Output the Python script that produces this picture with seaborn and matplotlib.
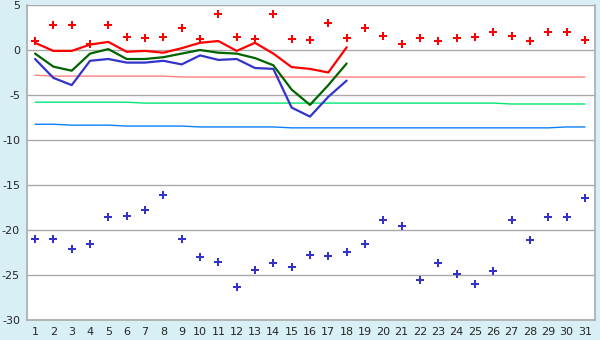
import numpy as np
import pandas as pd
import seaborn as sns
import matplotlib.pyplot as plt

# ==== Data ====
days = list(range(1, 32))

record_max = [1.0, 2.8, 2.8, 0.7, 2.8, 1.4, 1.3, 1.4, 2.5, 1.2, 4.0, 1.5, 1.2, 4.0, 1.2, 1.1,
              3.0, 1.3, 2.5, 1.6, 0.7, 1.3, 1.0, 1.3, 1.4, 2.0, 1.6, 1.0, 2.0, 2.0, 1.1]
record_min = [-21.0, -21.0, -22.1, -21.5, -18.6, -18.4, -17.8, -16.1, -21.0, -23.0, -23.6, -26.3,
              -24.4, -23.7, -24.1, -22.8, -22.9, -22.4, -21.6, -18.9, -19.5, -25.6, -23.7, -24.9,
              -26.0, -24.5, -18.9, -21.1, -18.6, -18.6, -16.4]

obs_days = list(range(1, 19))
t_max = [0.8, -0.1, -0.1, 0.6, 0.9, -0.2, -0.1, -0.3, 0.2, 0.8, 1.0, -0.1, 0.8, -0.4, -1.9, -2.1, -2.5, 0.3]
t_mean = [-0.4, -1.85, -2.3, -0.4, 0.1, -1.0, -1.0, -0.8, -0.4, 0.0, -0.3, -0.4, -0.9, -1.7, -4.4, -6.1, -3.9, -1.5]
t_min = [-1.0, -3.1, -3.9, -1.2, -1.0, -1.4, -1.4, -1.2, -1.6, -0.6, -1.1, -1.0, -2.0, -2.1, -6.4, -7.4, -5.2, -3.4]

norm_max = [-2.8] + [-2.9] * 7 + [-3.0] * 23
norm_mean = [-5.8] * 6 + [-5.9] * 20 + [-6.0] * 5
norm_min = [-8.25] * 2 + [-8.35] * 3 + [-8.45] * 4 + [-8.55] * 5 + [-8.65] * 15 + [-8.55] * 2

y_ticks = [5, 0, -5, -10, -15, -20, -25, -30]

# ==== Plot ====
sns.set_style("white")
plt.rcParams['font.family'] = ['DejaVu Sans']
plt.rcParams['axes.unicode_minus'] = False

fig = plt.figure(figsize=(6, 3.4), dpi=100, facecolor='#D9EFF6')
ax = fig.add_axes([27 / 600, 1 - 320 / 340, 568 / 600, 315 / 340])
ax.set_facecolor('white')

for y in y_ticks:
    ax.axhline(y, color='#AAAAAA', lw=1, zorder=0)

sns.lineplot(x=days, y=norm_max, color='#FF7F7F', lw=1.0, ax=ax)
sns.lineplot(x=days, y=norm_mean, color='#00E673', lw=1.0, ax=ax)
sns.lineplot(x=days, y=norm_min, color='#0A80FF', lw=1.0, ax=ax)

sns.lineplot(x=obs_days, y=t_max, color='#FF0000', lw=1.6, ax=ax)
sns.lineplot(x=obs_days, y=t_mean, color='#006400', lw=1.6, ax=ax)
sns.lineplot(x=obs_days, y=t_min, color='#3333CC', lw=1.6, ax=ax)

sns.scatterplot(x=days, y=record_max, color='#FF0000', marker='P', s=28, linewidth=0, ax=ax, zorder=5)
sns.scatterplot(x=days, y=record_min, color='#3333CC', marker='P', s=28, linewidth=0, ax=ax, zorder=5)

ax.set_xlim(0.56, 31.55)
ax.set_ylim(-30, 5)
ax.set_xticks(days)
ax.set_yticks(y_ticks)
ax.tick_params(axis='both', length=4, width=1, color='#888888', labelsize=8, pad=1)
ax.spines['top'].set_visible(False)
for side in ['left', 'right', 'bottom']:
    ax.spines[side].set_color('#AAAAAA')
    ax.spines[side].set_linewidth(1.2)
ax.set_xlabel('')
ax.set_ylabel('')

fig.savefig('out.png', dpi=100, facecolor=fig.get_facecolor())
